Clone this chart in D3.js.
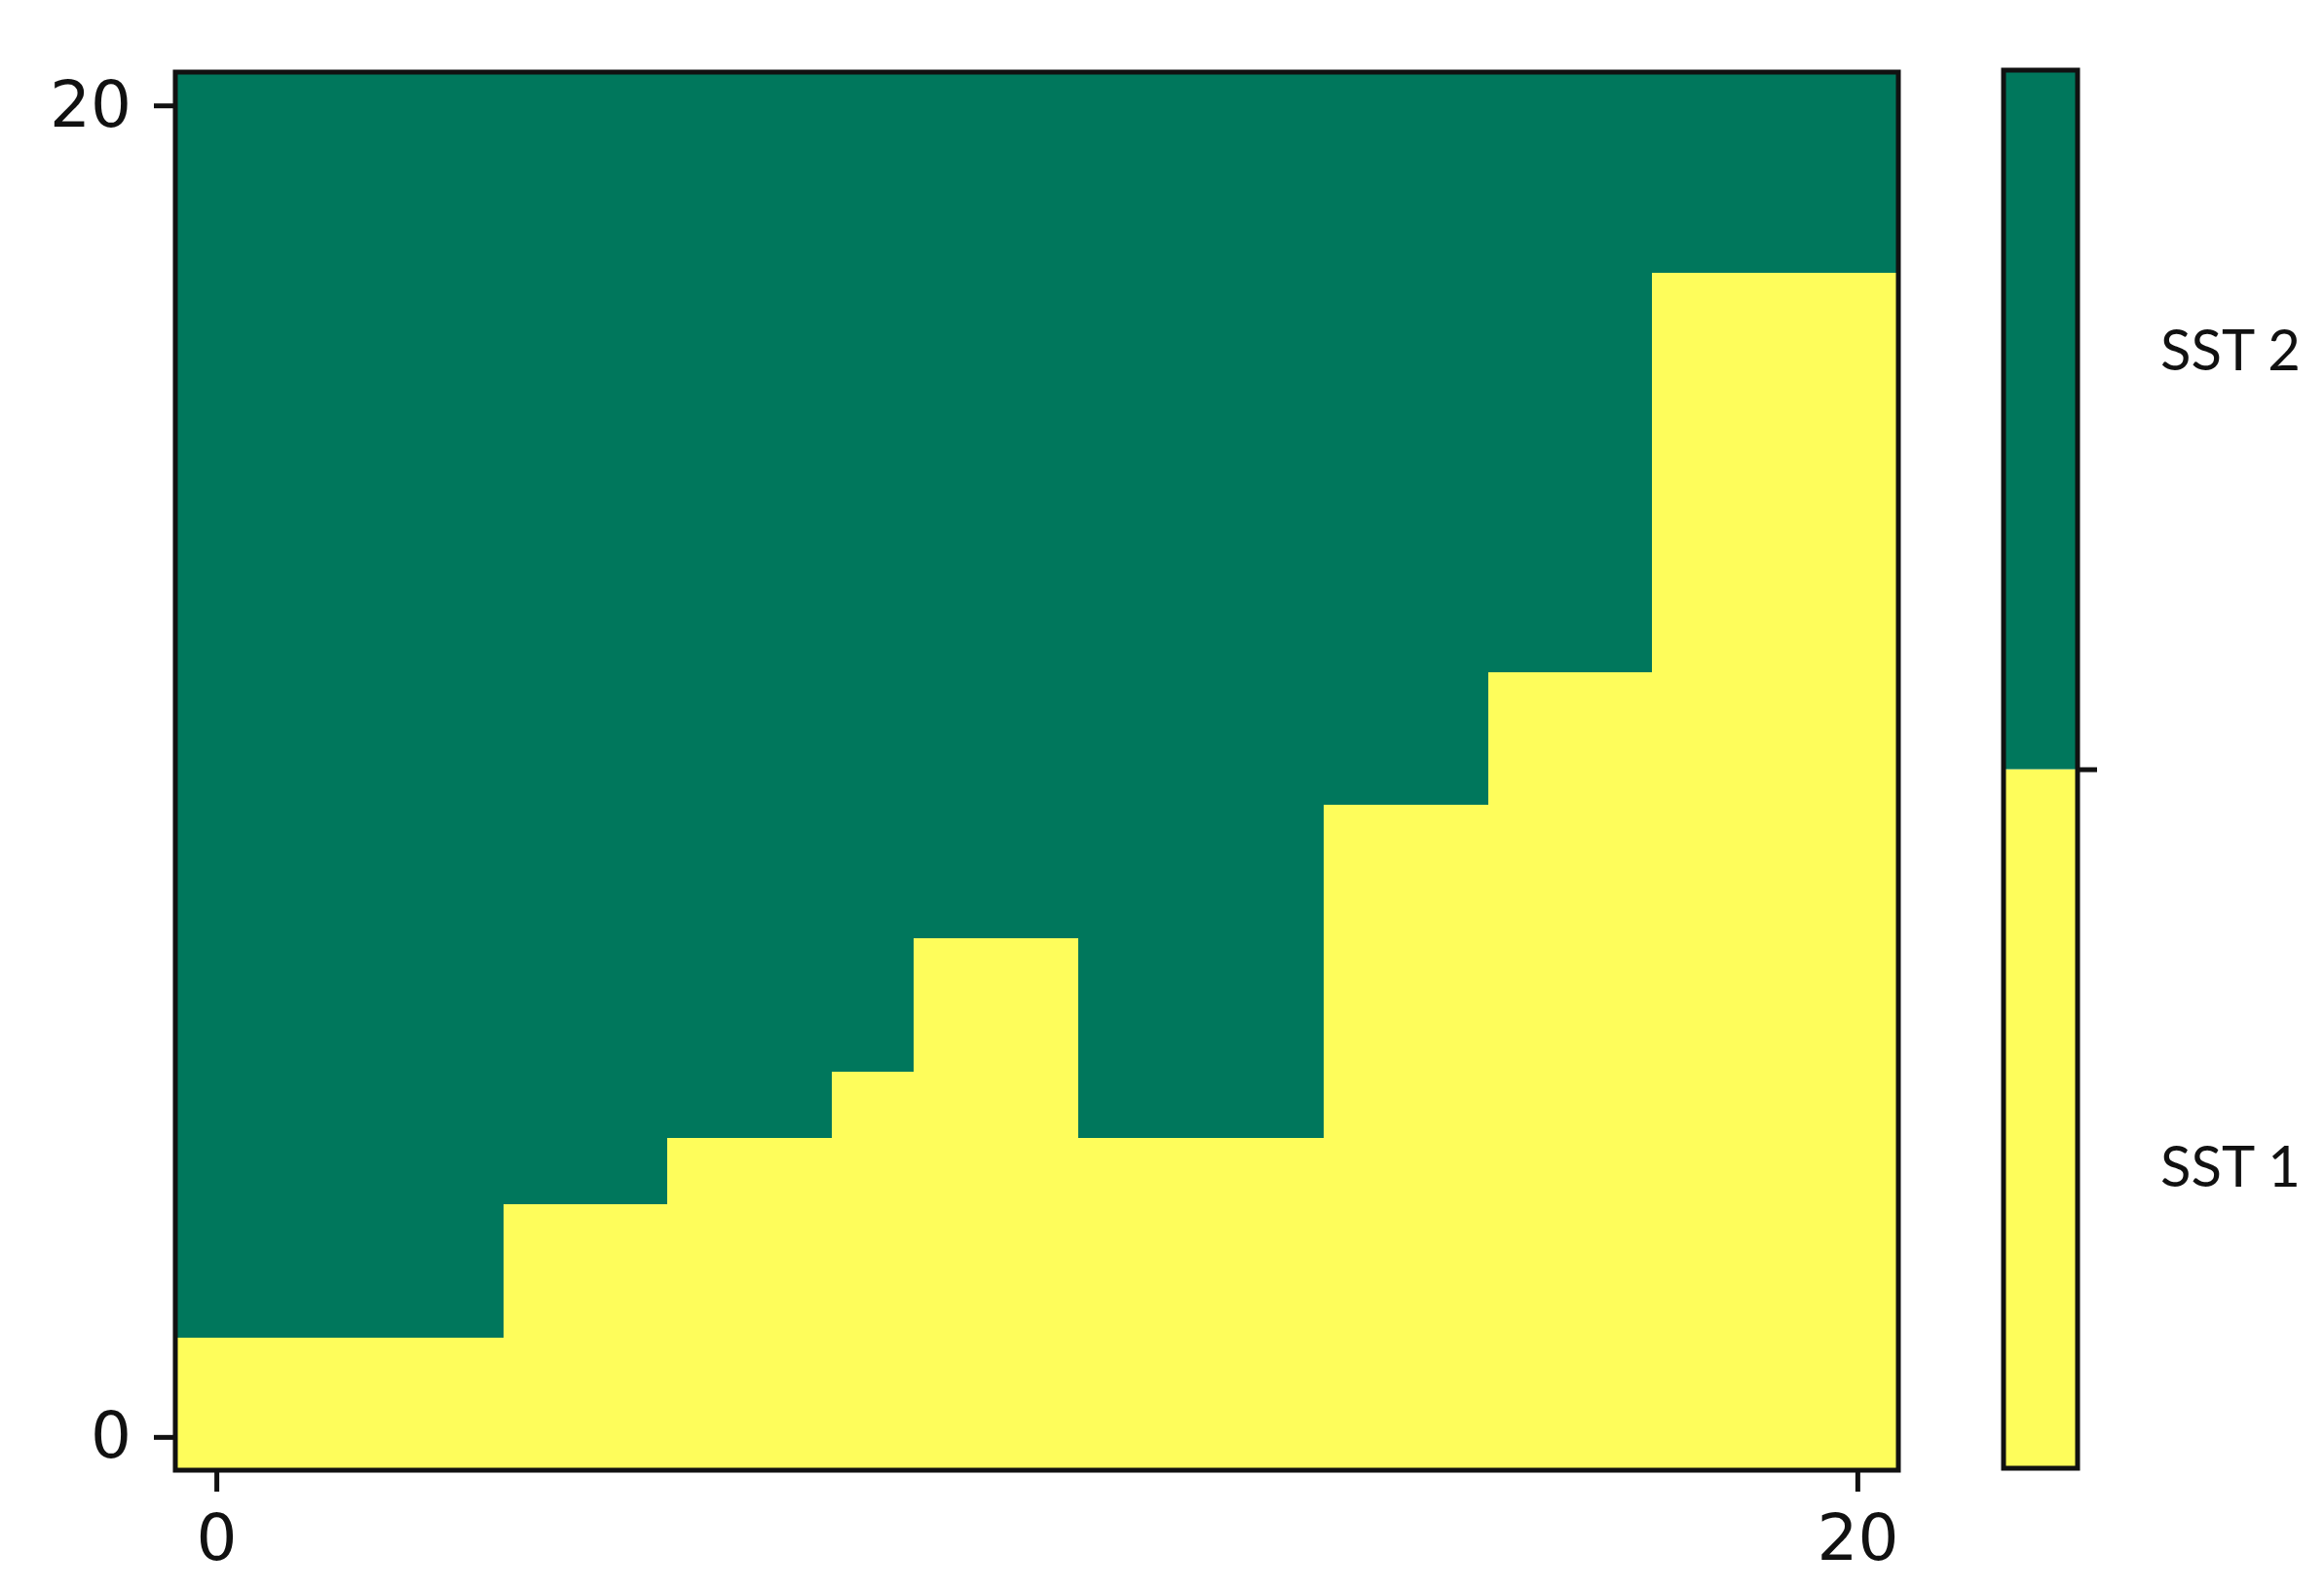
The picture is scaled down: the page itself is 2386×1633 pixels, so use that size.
<!DOCTYPE html>
<html>
<head>
<meta charset="utf-8">
<script src="https://cdn.jsdelivr.net/npm/d3@7"></script>
<style>
html,body{margin:0;padding:0;background:#fff;}
svg{display:block;}
</style>
</head>
<body>
<script>
// Columns 0..20 of the map; number of cells (from row 0 up) that belong to SST 1
const columns = d3.range(0, 21);
const rows = d3.range(0, 21);
const sst1Height = [2,2,2,2,4,4,5,5,6,8,8,5,5,5,10,10,12,12,18,18,18];
const classes = ["SST 1", "SST 2"];
const classColors = ["#fefd5b", "#00775c"];
const xTicks = [0, 20];
const yTicks = [0, 20];

const W = 2386, H = 1633;
const svg = d3.select("body").append("svg").attr("width", W).attr("height", H);

const x = d3.scaleLinear().domain([-0.5, 20.5]).range([180, 1949]);
const y = d3.scaleLinear().domain([-0.5, 20.5]).range([1509, 74]);
const color = d3.scaleOrdinal().domain([0, 1]).range(classColors);

const cells = [];
columns.forEach((c, i) => rows.forEach(r => cells.push({c, r, v: r < sst1Height[i] ? 0 : 1})));

svg.append("g").selectAll("rect").data(cells).join("rect")
  .attr("x", d => x(d.c - 0.5))
  .attr("y", d => y(d.r + 0.5))
  .attr("width", d => x(d.c + 0.5) - x(d.c - 0.5) + 0.6)
  .attr("height", d => y(d.r - 0.5) - y(d.r + 0.5) + 0.6)
  .attr("fill", d => color(d.v))
  .attr("shape-rendering", "crispEdges");

// frame
svg.append("rect")
  .attr("x", x(-0.5)).attr("y", y(20.5))
  .attr("width", x(20.5) - x(-0.5)).attr("height", y(-0.5) - y(20.5))
  .attr("fill", "none").attr("stroke", "#111").attr("stroke-width", 5);

const tickFont = "'DejaVu Sans', sans-serif";
const xAxis = svg.append("g").attr("transform", `translate(0,${y(-0.5)})`)
  .call(d3.axisBottom(x).tickValues(xTicks).tickSize(22).tickPadding(23).tickFormat(d3.format("d")));
const yAxis = svg.append("g").attr("transform", `translate(${x(-0.5)},0)`)
  .call(d3.axisLeft(y).tickValues(yTicks).tickSize(22).tickPadding(23).tickFormat(d3.format("d")));
[xAxis, yAxis].forEach(g => {
  g.select(".domain").remove();
  g.selectAll(".tick line").attr("stroke", "#111").attr("stroke-width", 5);
  g.selectAll(".tick text").attr("font-family", tickFont).attr("font-size", 66).attr("fill", "#111");
});

// colorbar
const cb = d3.scaleLinear().domain([0, 2]).range([1507, 72]);
const cbX = 2057, cbW = 76;
svg.append("g").selectAll("rect").data(classes).join("rect")
  .attr("x", cbX).attr("width", cbW)
  .attr("y", (d, i) => cb(i + 1))
  .attr("height", (d, i) => cb(i) - cb(i + 1))
  .attr("fill", (d, i) => classColors[i]);
svg.append("rect").attr("x", cbX).attr("y", cb(2)).attr("width", cbW).attr("height", cb(0) - cb(2))
  .attr("fill", "none").attr("stroke", "#111").attr("stroke-width", 5);
const cbAxis = svg.append("g").attr("transform", `translate(${cbX + cbW},0)`)
  .call(d3.axisRight(cb).tickValues([1]).tickSize(20).tickFormat(""));
cbAxis.select(".domain").remove();
cbAxis.selectAll(".tick line").attr("stroke", "#111").attr("stroke-width", 5);

// class labels
const labelY = {"SST 2": 359, "SST 1": 1197};
svg.append("g").selectAll("text").data(classes).join("text")
  .attr("x", 2218)
  .attr("y", d => labelY[d])
  .attr("dy", "0.36em")
  .attr("font-family", "Lato, 'Open Sans', sans-serif")
  .attr("font-size", 58)
  .attr("fill", "#111")
  .text(d => d);
</script>
</body>
</html>
